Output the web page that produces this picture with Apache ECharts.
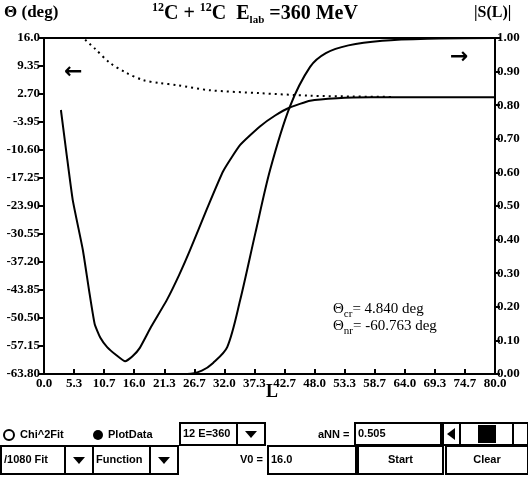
<!DOCTYPE html>
<html>
<head>
<meta charset="utf-8">
<script src="https://cdn.jsdelivr.net/npm/echarts@6/dist/echarts.min.js"></script>
<style>
  html, body { margin: 0; padding: 0; background: #fff; }
  #main { width: 528px; height: 486px; }
</style>
</head>
<body>
<div id="main"></div>
<script>
// deflection function (left axis), solid
var thetaL = [3.0, 4.0, 5.1, 6.9, 8.0, 9.0, 10.0, 11.2, 12.8, 14.4, 15.7, 17.0, 19.0, 21.8, 24.0, 25.9, 28.9, 31.8, 34.8, 38.3, 41.0, 43.6, 47.2, 52.0, 58.0, 65.0, 80.0];
var thetaV = [-1.1, -11.5, -22.5, -34.4, -44, -52.0, -55.2, -57.4, -59.3, -60.8, -59.6, -57.6, -52.6, -46.2, -40.2, -34.4, -24.6, -15.6, -9.4, -5.0, -2.4, -0.5, 1.1, 1.7, 1.9, 1.9, 1.9];
// coulomb deflection (left axis), dotted
var coulL = [7.3, 9.0, 11.7, 14.5, 17.6, 20.5, 23.6, 29.4, 38.3, 47.2, 55.0, 62.0];
var coulV = [15.6, 13.5, 10.1, 7.8, 6.0, 5.3, 4.8, 3.6, 2.9, 2.3, 2.1, 2.0];
// |S(L)| (right axis)
var sL = [3.0, 20.0, 25.4, 28.0, 30.0, 32.5, 34.8, 37.5, 40.1, 43.6, 47.2, 50.0, 54.0, 60.0, 68.0, 80.0];
var sV = [0, 0, 0, 0.01, 0.033, 0.08, 0.22, 0.42, 0.607, 0.795, 0.914, 0.955, 0.978, 0.992, 0.998, 1.0];

var thetaTicks = [16.0, 9.35, 2.70, -3.95, -10.60, -17.25, -23.90, -30.55, -37.20, -43.85, -50.50, -57.15, -63.80];
var thetaLabels = ['16.0', '9.35', '2.70', '-3.95', '-10.60', '-17.25', '-23.90', '-30.55', '-37.20', '-43.85', '-50.50', '-57.15', '-63.80'];
var xLabels = ['0.0', '5.3', '10.7', '16.0', '21.3', '26.7', '32.0', '37.3', '42.7', '48.0', '53.3', '58.7', '64.0', '69.3', '74.7', '80.0'];

function pairs(a, b) {
    return a.map(function (v, i) { return [v, b[i]]; });
}

var tickFont = { color: '#000', fontFamily: 'Liberation Serif', fontWeight: 'bold', fontSize: 13 };

// GUI panel under the plot
var gui = [];
function box(x, y, w, h, txt, opts) {
    opts = opts || {};
    gui.push({ type: 'rect', shape: { x: x, y: y, width: w, height: h },
        style: { fill: opts.fill || '#fff', stroke: '#000', lineWidth: 2 } });
    if (txt) {
        gui.push({ type: 'text', x: opts.center ? x + w / 2 : x + 3, y: y + h / 2,
            style: { text: txt, fill: '#000', font: 'bold 11px "Liberation Sans"',
                textAlign: opts.center ? 'center' : 'left', textVerticalAlign: 'middle' } });
    }
}
function drop(x, y, w, h) {
    box(x, y, w, h);
    gui.push({ type: 'polygon', shape: { points: [[x + w / 2 - 6, y + h / 2 - 3], [x + w / 2 + 6, y + h / 2 - 3], [x + w / 2, y + h / 2 + 4]] },
        style: { fill: '#000' } });
}
function label(x, y, txt) {
    gui.push({ type: 'text', x: x, y: y,
        style: { text: txt, fill: '#000', font: 'bold 11px "Liberation Sans"', textVerticalAlign: 'middle' } });
}

// row 1
gui.push({ type: 'circle', shape: { cx: 9, cy: 435, r: 5 }, style: { fill: 'none', stroke: '#000', lineWidth: 2 } });
label(20, 435, 'Chi^2Fit');
gui.push({ type: 'circle', shape: { cx: 98, cy: 435, r: 5 }, style: { fill: '#000' } });
label(108, 435, 'PlotData');
box(180, 423, 57, 22, '12 E=360');
drop(237, 423, 28, 22);
label(318, 435, 'aNN =');
box(355, 423, 86, 22, '0.505');
box(443, 423, 17, 22);
gui.push({ type: 'polygon', shape: { points: [[455, 428], [455, 440], [447, 434]] }, style: { fill: '#000' } });
box(460, 423, 68, 22);
gui.push({ type: 'rect', shape: { x: 478, y: 425, width: 18, height: 18 }, style: { fill: '#000' } });
gui.push({ type: 'rect', shape: { x: 513, y: 423, width: 15, height: 22 }, style: { fill: '#fff', stroke: '#000', lineWidth: 2 } });
// row 2
box(1, 446, 64, 28, '/1080 Fit');
drop(65, 446, 28, 28);
box(93, 446, 57, 28, 'Function');
drop(150, 446, 28, 28);
label(240, 460, 'V0 =');
box(268, 446, 88, 28, '16.0');
box(358, 446, 85, 28, 'Start', { center: true });
box(446, 446, 82, 28, 'Clear', { center: true });

var texts = [
    { type: 'text', left: 152, top: 2,
      style: { rich: {
          a: { fontFamily: 'Liberation Serif', fontWeight: 'bold', fontSize: 20, fill: '#000' },
          sup: { fontFamily: 'Liberation Serif', fontWeight: 'bold', fontSize: 12, fill: '#000', verticalAlign: 'top', lineHeight: 24 },
          sub: { fontFamily: 'Liberation Serif', fontWeight: 'bold', fontSize: 11, fill: '#000', verticalAlign: 'bottom', lineHeight: 24 }
      }, text: '{sup|12}{a|C + }{sup|12}{a|C  E}{sub|lab}{a| =360 MeV}' } },
    { type: 'text', left: 4, top: 4,
      style: { text: '\u0398 (deg)', fill: '#000', font: 'bold 17px "Liberation Serif"' } },
    { type: 'text', left: 474, top: 5,
      style: { text: '|S(L)|', fill: '#000', font: 'bold 16px "Liberation Serif"' } },
    { type: 'text', left: 266, top: 383,
      style: { text: 'L', fill: '#000', font: 'bold 18px "Liberation Serif"' } },
    { type: 'text', left: 64, top: 61,
      style: { text: '\u2190', fill: '#000', font: 'bold 22px "DejaVu Sans"' } },
    { type: 'text', left: 450, top: 46,
      style: { text: '\u2192', fill: '#000', font: 'bold 22px "DejaVu Sans"' } },
    { type: 'text', left: 333, top: 302,
      style: { rich: {
          a: { fontFamily: 'Liberation Serif', fontSize: 15, fill: '#000' },
          sub: { fontFamily: 'Liberation Serif', fontSize: 11, fill: '#000', verticalAlign: 'bottom', lineHeight: 20 }
      }, text: '{a|\u0398}{sub|cr}{a|= 4.840 deg}' } },
    { type: 'text', left: 333, top: 319,
      style: { rich: {
          a: { fontFamily: 'Liberation Serif', fontSize: 15, fill: '#000' },
          sub: { fontFamily: 'Liberation Serif', fontSize: 11, fill: '#000', verticalAlign: 'bottom', lineHeight: 20 }
      }, text: '{a|\u0398}{sub|nr}{a|= -60.763 deg}' } }
];

var option = {
    backgroundColor: '#fff',
    animation: false,
    grid: { left: 44, right: 33, top: 38, bottom: 112, show: true, borderColor: '#000', borderWidth: 2 },
    xAxis: {
        type: 'value', min: 0, max: 80, interval: 80 / 15,
        axisLine: { onZero: false, lineStyle: { color: '#000', width: 2 } },
        axisTick: { inside: true, length: 5, lineStyle: { color: '#000', width: 2 } },
        splitLine: { show: false },
        axisLabel: Object.assign({ margin: 3, formatter: function (v) {
            return xLabels[Math.round(v / (80 / 15))];
        } }, tickFont)
    },
    yAxis: [{
        type: 'value', min: -63.8, max: 16, position: 'left',
        axisLine: { show: true, onZero: false, lineStyle: { color: '#000', width: 2 } },
        axisTick: { show: true, length: 5, customValues: thetaTicks, lineStyle: { color: '#000', width: 2 } },
        splitLine: { show: false },
        axisLabel: Object.assign({ margin: 4, customValues: thetaTicks, formatter: function (v) {
            var i = thetaTicks.findIndex(function (t) { return Math.abs(t - v) < 1e-6; });
            return i >= 0 ? thetaLabels[i] : '';
        } }, tickFont)
    }, {
        type: 'value', min: 0, max: 1, interval: 0.1, position: 'right',
        axisLine: { show: true, onZero: false, lineStyle: { color: '#000', width: 2 } },
        axisTick: { show: true, length: 5, lineStyle: { color: '#000', width: 2 } },
        splitLine: { show: false },
        axisLabel: Object.assign({ margin: 2, formatter: function (v) { return v.toFixed(2); } }, tickFont)
    }],
    series: [{
        type: 'line', yAxisIndex: 0, data: pairs(thetaL, thetaV), smooth: 0.15,
        showSymbol: false, lineStyle: { color: '#000', width: 2 }
    }, {
        type: 'line', yAxisIndex: 0, data: pairs(coulL, coulV), smooth: 0.3,
        showSymbol: false, lineStyle: { color: '#000', width: 2, type: [2, 4] }
    }, {
        type: 'line', yAxisIndex: 1, data: pairs(sL, sV), smooth: 0.3,
        showSymbol: false, lineStyle: { color: '#000', width: 2 }
    }],
    graphic: texts.concat(gui)
};

var myChart = echarts.init(document.getElementById('main'));
myChart.setOption(option);
</script>
</body>
</html>
